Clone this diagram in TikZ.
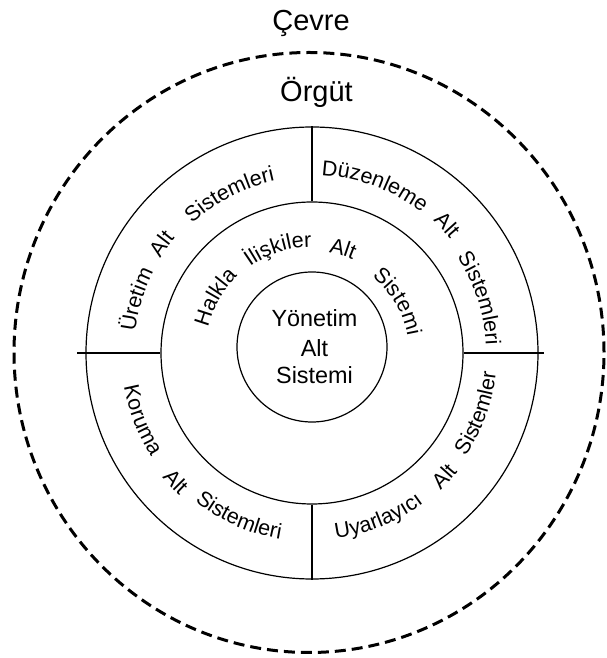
\documentclass[tikz,border=0pt]{standalone}
\usepackage{fontspec}
\setmainfont{Liberation Sans}
\usetikzlibrary{decorations.text}
% font used for the words set along the rings
\newcommand\ringfont{\fontsize{21.5}{24}\selectfont}
% a word centred on angle #1 at baseline radius #2, on an arc of half-span #3
% clockwise: letters stand outward (upper half)
\newcommand\wordcw[4]{\path[decorate,decoration={text along path,text align=center,text={|\ringfont|#4}}]
  (#1+#3:#2) arc[start angle=#1+#3, end angle=#1-#3, radius=#2];}
% counter-clockwise: letters stand inward (lower half)
\newcommand\wordccw[4]{\path[decorate,decoration={text along path,text align=center,text={|\ringfont|#4}}]
  (#1-#3:#2) arc[start angle=#1-#3, end angle=#1+#3, radius=#2];}
\begin{document}
\begin{tikzpicture}[x=1pt,y=1pt,
  ring/.style={circle,draw,line width=1.2pt,inner sep=0pt},
  divider/.style={line width=1.2pt},
  envline/.style={line width=3pt,dash pattern=on 11pt off 6pt},
  titletext/.style={font=\fontsize{29}{32}\selectfont,anchor=base,inner sep=0pt},
  coretext/.style={font=\fontsize{23.4}{28}\selectfont,anchor=base,inner sep=0pt}]
\useasboundingbox (0,0) rectangle (607,658);
\begin{scope}[shift={(312,305)}]
  % environment boundary
  \draw[envline] (-3,0.5) ellipse[x radius=295, y radius=300];
  \node[titletext] (cevre) at (-1,322) {Çevre};
  \node[titletext] (orgut) at (4.5,251) {Örgüt};

  % the three rings
  \node[ring,minimum size=452pt] (outer) at (0,0) {};
  \node[ring,minimum size=302pt] (mid) at (0,0) {};
  \node[ring,minimum size=150pt] (core) at (0,6) {};

  % dividers of the outer ring
  \coordinate (lstub) at (-235,0);
  \coordinate (rstub) at (232,0);
  \draw[divider] (lstub) -- (mid.west);
  \draw[divider] (mid.east) -- (rstub);
  \draw[divider] (mid.north) -- (outer.north);
  \draw[divider] (mid.south) -- (outer.south);

  % centre
  \node[coretext] (y1) at (2.5,26) {Yönetim};
  \node[coretext] (y2) at (2.5,-4) {Alt};
  \node[coretext] (y3) at (2.5,-31) {Sistemi};

  % middle ring
  \wordcw{150}{107}{60}{Halkla}
  \wordcw{108}{106}{60}{İlişkiler}
  \wordcw{73.5}{102}{60}{Alt}
  \wordcw{31}{97}{60}{Sistemi}

  % outer ring, upper quadrants
  \wordcw{163}{178}{45}{Üretim}
  \wordcw{144}{179}{45}{Alt}
  \wordcw{117.5}{176}{45}{Sistemleri}
  \wordcw{69.5}{178}{45}{Düzenleme}
  \wordcw{43.5}{179}{45}{Alt}
  \wordcw{18}{174}{45}{Sistemleri}

  % outer ring, lower quadrants
  \wordccw{201.5}{191}{45}{Koruma}
  \wordccw{223.5}{195}{45}{Alt}
  \wordccw{246}{189}{45}{Sistemleri}
  \wordccw{292}{187}{45}{Uyarlayıcı}
  \wordccw{317}{188}{45}{Alt}
  \wordccw{340}{185}{45}{Sistemler}
\end{scope}
\end{tikzpicture}
\end{document}
